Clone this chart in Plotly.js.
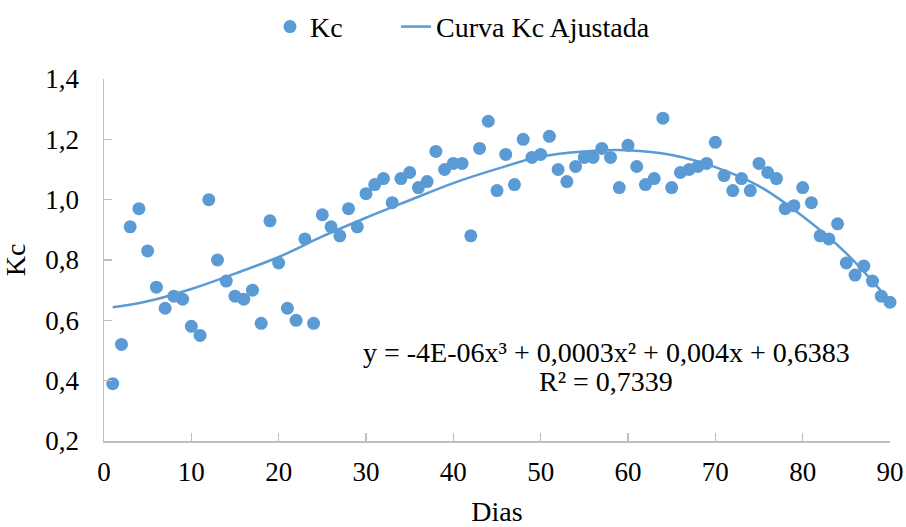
<!DOCTYPE html>
<html>
<head>
<meta charset="utf-8">
<script src="https://cdn.plot.ly/plotly-3.0.1.min.js"></script>
<style>html,body{margin:0;padding:0;background:#fff;}#chart{width:906px;height:527px;}</style>
</head>
<body>
<div id="chart"></div>
<script>
const days = Array.from({length: 90}, (_, i) => i + 1);
const kc = [
  0.39, 0.52, 0.91, 0.97, 0.83, 0.71, 0.64, 0.68, 0.67, 0.58,
  0.55, 1.00, 0.80, 0.73, 0.68, 0.67, 0.70, 0.59, 0.93, 0.79,
  0.64, 0.60, 0.87, 0.59, 0.95, 0.91, 0.88, 0.97, 0.91, 1.02,
  1.05, 1.07, 0.99, 1.07, 1.09, 1.04, 1.06, 1.16, 1.10, 1.12,
  1.12, 0.88, 1.17, 1.26, 1.03, 1.15, 1.05, 1.20, 1.14, 1.15,
  1.21, 1.10, 1.06, 1.11, 1.14, 1.14, 1.17, 1.14, 1.04, 1.18,
  1.11, 1.05, 1.07, 1.27, 1.04, 1.09, 1.10, 1.11, 1.12, 1.19,
  1.08, 1.03, 1.07, 1.03, 1.12, 1.09, 1.07, 0.97, 0.98, 1.04,
  0.99, 0.88, 0.87, 0.92, 0.79, 0.75, 0.78, 0.73, 0.68, 0.66
];
const curveDays = [1, 5, 10, 15, 20, 25, 30, 35, 40, 45, 50, 55, 60, 65, 70, 75, 80, 85, 90];
const curveKc = [0.643, 0.663, 0.704, 0.755, 0.810, 0.878, 0.940, 0.998, 1.055, 1.102, 1.143, 1.160, 1.164, 1.148, 1.108, 1.045, 0.945, 0.822, 0.663];
const xTicks = [0, 10, 20, 30, 40, 50, 60, 70, 80, 90];
const yTicks = [0.2, 0.4, 0.6, 0.8, 1.0, 1.2, 1.4];
const eqText = "y = -4E-06x³ + 0,0003x² + 0,004x + 0,6383";
const r2Text = "R² = 0,7339";

const blue = "#5b9bd5";
const font = "Liberation Serif";

const traces = [
  {
    x: days, y: kc, type: "scatter", mode: "markers", name: "Kc", legend: "legend",
    marker: {color: blue, size: 13}, cliponaxis: false
  },
  {
    x: curveDays, y: curveKc, type: "scatter", mode: "lines", name: "Curva Kc Ajustada", legend: "legend2",
    line: {color: blue, width: 2.5, shape: "spline", smoothing: 1}, cliponaxis: false
  }
];

const axisCommon = {
  showgrid: false, zeroline: false, showline: true, linecolor: "#bfbfbf", linewidth: 1.5,
  ticks: "inside", ticklen: 8, tickcolor: "#bfbfbf", tickwidth: 1.5,
  tickfont: {family: font, size: 27, color: "#000"}
};

const legendCommon = {
  orientation: "h", xanchor: "left", xref: "container",
  y: 0.949, yanchor: "middle", yref: "container",
  font: {family: font, size: 28, color: "#000"}, bgcolor: "rgba(0,0,0,0)"
};

const layout = {
  width: 906, height: 527,
  margin: {l: 104, r: 16, t: 79, b: 86},
  paper_bgcolor: "#fff", plot_bgcolor: "#fff",
  font: {family: font, color: "#000"},
  showlegend: true,
  legend: Object.assign({}, legendCommon, {x: 270 / 906}),
  legend2: Object.assign({}, legendCommon, {x: 396 / 906}),
  xaxis: Object.assign({}, axisCommon, {
    range: [0, 90], tickvals: xTicks, ticktext: xTicks.map(String),
    ticklabelstandoff: 6,
    title: {text: "Dias", font: {family: font, size: 28, color: "#000"}, standoff: 19}
  }),
  yaxis: Object.assign({}, axisCommon, {
    range: [0.2, 1.4], tickvals: yTicks, ticktext: yTicks.map(v => v.toFixed(1).replace(".", ",")),
    ticklabelstandoff: 18,
    title: {text: "Kc", font: {family: font, size: 28, color: "#000"}, standoff: 12}
  }),
  annotations: [
    {x: 57.5, y: 0.495, xref: "x", yref: "y", text: eqText, showarrow: false,
     font: {family: font, size: 28, color: "#000"}},
    {x: 57.5, y: 0.396, xref: "x", yref: "y", text: r2Text, showarrow: false,
     font: {family: font, size: 28, color: "#000"}}
  ]
};

Plotly.newPlot("chart", traces, layout, {displayModeBar: false, staticPlot: true});
</script>
</body>
</html>
